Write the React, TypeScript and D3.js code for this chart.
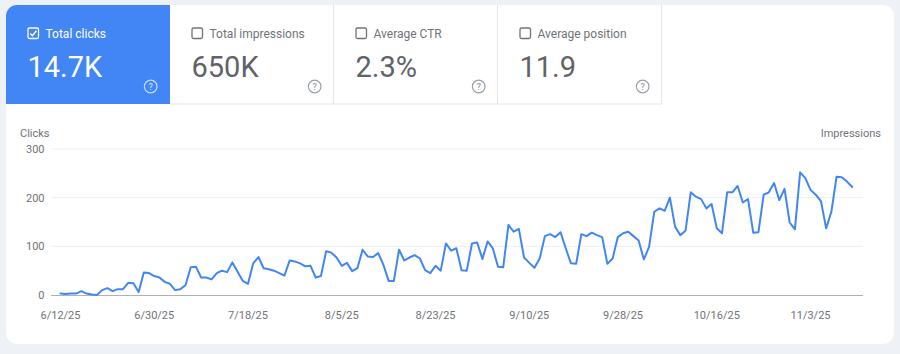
import React from "react";
import * as d3 from "d3";

const START_DATE = "2025-06-12";
const clicks: number[] = [
  3, 2, 3, 3, 8, 3, 1, 0, 10, 14, 8, 12, 12, 25, 24, 6, 46, 45, 39, 36,
  27, 23, 10, 12, 20, 57, 58, 36, 36, 32, 45, 50, 47, 67, 48, 29, 23, 65, 78, 55,
  53, 50, 45, 40, 71, 69, 65, 59, 60, 36, 39, 90, 87, 77, 60, 66, 49, 55, 93, 79,
  78, 86, 62, 29, 29, 93, 71, 77, 82, 75, 51, 45, 60, 50, 106, 91, 96, 51, 50, 106,
  108, 74, 110, 96, 58, 57, 144, 130, 136, 77, 66, 56, 75, 121, 125, 119, 129, 96, 65, 64,
  125, 121, 128, 123, 119, 64, 75, 119, 127, 130, 121, 112, 73, 99, 171, 178, 173, 200, 140, 123,
  132, 211, 202, 197, 178, 187, 137, 127, 211, 211, 224, 190, 197, 128, 129, 206, 211, 230, 195, 218,
  149, 135, 252, 240, 216, 206, 193, 137, 171, 243, 242, 233, 222,
];
const xTickLabels = ["6/12/25", "6/30/25", "7/18/25", "8/5/25", "8/23/25", "9/10/25", "9/28/25", "10/16/25", "11/3/25"];
const yTicks = [0, 100, 200, 300];
const metricLabels = ["Total clicks", "Total impressions", "Average CTR", "Average position"];
const metricValues = ["14.7K", "650K", "2.3%", "11.9"];

const BLUE = "#4285f4";
const GRAY = "#5f6368";
const LIGHTGRAY = "#6f7378";
const FONT = "Roboto, 'Noto Sans', sans-serif";

function HelpIcon({ cx, cy, color }: { cx: number; cy: number; color: string }) {
  return (
    <g>
      <circle cx={cx} cy={cy} r={6.3} fill="none" stroke={color} strokeWidth={1.2} />
      <text x={cx} y={cy + 3.3} textAnchor="middle" fontSize={9} fontWeight={500} fill={color} fontFamily={FONT}>?</text>
    </g>
  );
}

export default function App() {
  const parse = d3.timeParse("%Y-%m-%d");
  const start = parse(START_DATE) as Date;
  const data = clicks.map((v, i) => ({ date: d3.timeDay.offset(start, i), v }));
  const tickParse = d3.timeParse("%m/%d/%y");

  const x = d3
    .scaleTime()
    .domain([start, data[data.length - 1].date])
    .range([60.5, 852.2]);
  const y = d3.scaleLinear().domain([0, 300]).range([295, 149]);

  const line = d3
    .line<{ date: Date; v: number }>()
    .x((d) => x(d.date))
    .y((d) => y(d.v))
    .curve(d3.curveLinear);

  const cardW = 164;
  const cardX0 = 6;

  return (
    <div style={{ position: "fixed", left: 0, top: 0, width: 900, height: 354, background: "#eef1f6" }}>
      <svg width={900} height={354} style={{ display: "block" }} fontFamily={FONT}>
        <defs>
          <clipPath id="cardclip">
            <rect x={6} y={5} width={888} height={339} rx={11} />
          </clipPath>
        </defs>
        <rect x={6} y={5} width={888} height={339} rx={11} fill="#ffffff" />
        <g clipPath="url(#cardclip)">
          {metricLabels.map((label, i) => {
            const cx = cardX0 + i * cardW;
            const active = i === 0;
            return (
              <g key={label}>
                <rect x={cx} y={5} width={cardW} height={99} fill={active ? BLUE : "#ffffff"} />
                {!active && (
                  <>
                    <line x1={cx + cardW - 0.5} x2={cx + cardW - 0.5} y1={5} y2={104} stroke="#e3e5e8" />
                    <line x1={cx} x2={cx + cardW} y1={104} y2={104} stroke="#e3e5e8" />
                  </>
                )}
                <rect
                  x={cx + 22}
                  y={28}
                  width={10.5}
                  height={10.5}
                  rx={1.5}
                  fill="none"
                  stroke={active ? "#ffffff" : LIGHTGRAY}
                  strokeWidth={1.3}
                />
                {active && (
                  <polyline
                    points={`${cx + 24.3},${33.4} ${cx + 26.4},${35.6} ${cx + 30.4},${30.8}`}
                    fill="none"
                    stroke="#ffffff"
                    strokeWidth={1.4}
                  />
                )}
                <text x={cx + 39.5} y={37.5} fontSize={12} fill={active ? "#ffffff" : LIGHTGRAY}>
                  {label}
                </text>
                <text x={cx + 21.5} y={77} fontSize={29} fill={active ? "#ffffff" : GRAY}>
                  {metricValues[i]}
                </text>
                <HelpIcon cx={cx + cardW - 19.3} cy={86.5} color={active ? "rgba(255,255,255,0.7)" : "#9aa0a6"} />
              </g>
            );
          })}
        </g>

        <text x={20} y={137.3} fontSize={11} fill={LIGHTGRAY}>Clicks</text>
        <text x={881} y={137.3} fontSize={11} fill={LIGHTGRAY} textAnchor="end">Impressions</text>

        {yTicks.map((t) => (
          <g key={t}>
            {t !== 0 && <line x1={52} x2={863} y1={y(t)} y2={y(t)} stroke="#eceef0" strokeWidth={1} />}
            <text x={44.5} y={y(t) + 4} fontSize={11} fill={LIGHTGRAY} textAnchor="end">{t}</text>
          </g>
        ))}
        <line x1={51} x2={863} y1={y(0) + 0.5} y2={y(0) + 0.5} stroke="#aeb2b7" strokeWidth={1} />

        {xTickLabels.map((lbl) => {
          const d = tickParse(lbl) as Date;
          return (
            <text key={lbl} x={x(d)} y={318.5} fontSize={11} fill={LIGHTGRAY} textAnchor="middle">
              {lbl}
            </text>
          );
        })}

        <path d={line(data) || ""} fill="none" stroke={BLUE} strokeWidth={2} strokeLinejoin="round" strokeLinecap="round" />
      </svg>
    </div>
  );
}
